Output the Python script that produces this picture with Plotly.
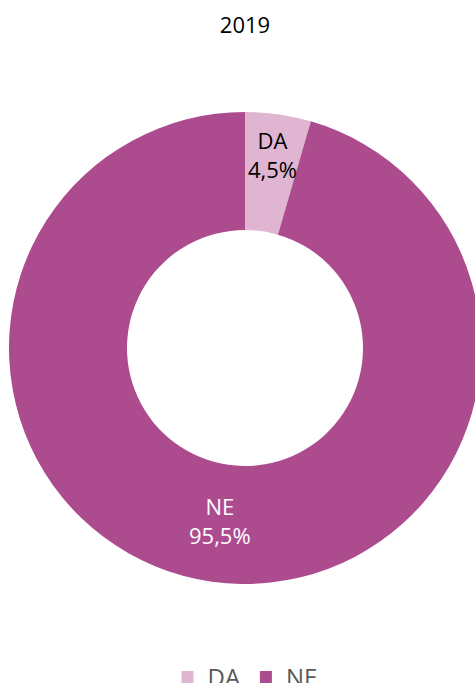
import math
import plotly.graph_objects as go

# Share of DA vs NE, 2019
labels = ["DA", "NE"]
values = [4.5, 95.5]
colors = ["#DFB5D2", "#AD4B8F"]
label_colors = ["#000000", "#FFFFFF"]
label_radius = [0.83, 0.74]   # fraction of the outer radius where each label sits
year = "2019"

FONT = "Open Sans"
W, H = 490, 760
L, R, T, B = 9, 9, 112, 176

fig = go.Figure(go.Pie(
    labels=labels,
    values=values,
    hole=0.5,
    sort=False,
    direction="clockwise",
    rotation=0,
    marker=dict(colors=colors, line=dict(width=0)),
    textinfo="none",
    hoverinfo="label+percent",
    domain=dict(x=[0, 1], y=[0, 1]),
))

# Labels placed at each slice's mid-angle (pie domain is square: centre 0.5, radius 0.5)
total = sum(values)
start = 0.0
for lab, val, col, rf in zip(labels, values, label_colors, label_radius):
    mid = math.radians((start + val / 2) / total * 360)
    start += val
    fig.add_annotation(
        x=0.5 + 0.5 * rf * math.sin(mid),
        y=0.5 + 0.5 * rf * math.cos(mid),
        xref="paper", yref="paper",
        xanchor="center", yanchor="middle",
        text=f"{lab}<br>{str(val).replace('.', ',')}%",
        showarrow=False,
        font=dict(family=FONT, size=22, color=col),
        align="center",
    )

fig.update_layout(
    width=W, height=H,
    margin=dict(l=L, r=R, t=T, b=B, autoexpand=False),
    paper_bgcolor="white",
    plot_bgcolor="white",
    title=dict(text=year, x=245 / W, xanchor="center", y=1 - 25 / H, yanchor="middle",
               font=dict(family=FONT, size=22, color="#000000")),
    showlegend=True,
    legend=dict(orientation="h", x=0.5, xanchor="center",
                yref="container", y=1 - 655 / H, yanchor="top",
                font=dict(family=FONT, size=24, color="#595959"),
                traceorder="normal"),
)

fig.write_html("out.html", post_script="document.body.style.margin='0';document.body.style.overflow='hidden';")
